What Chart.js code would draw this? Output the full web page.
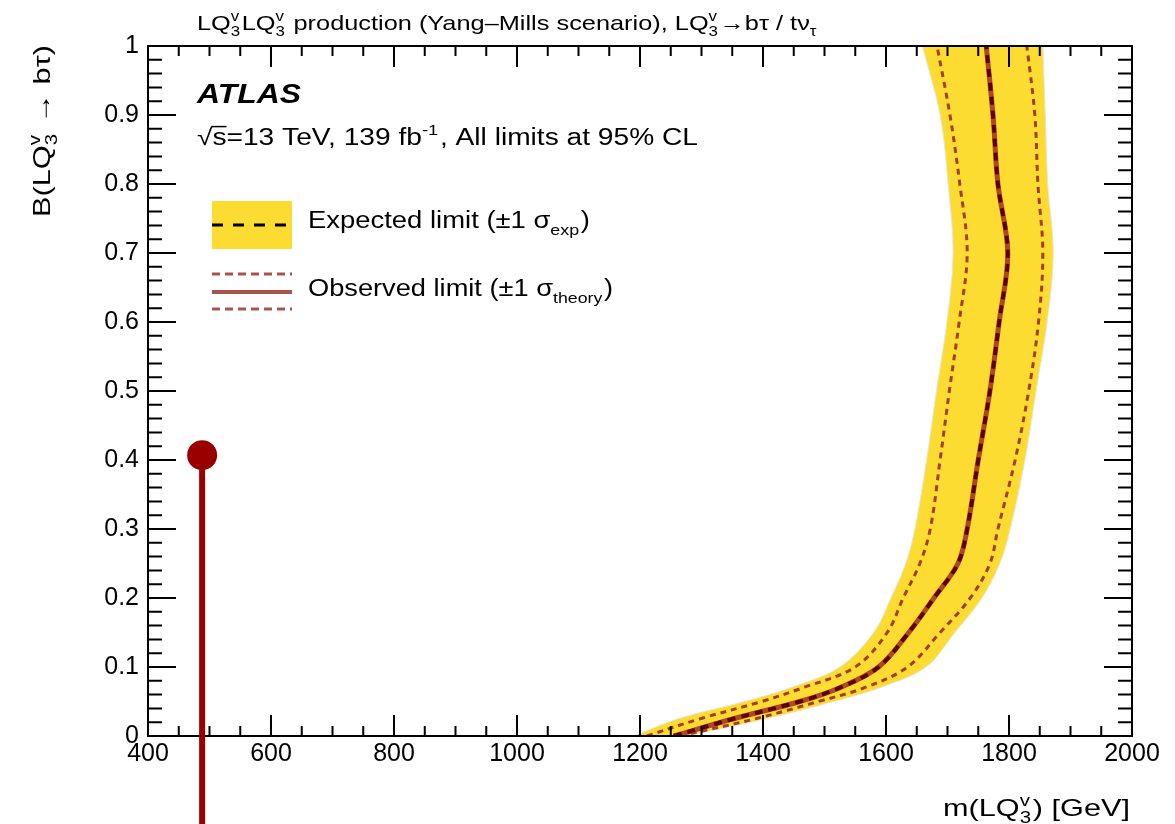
<!DOCTYPE html>
<html>
<head>
<meta charset="utf-8">
<script src="https://cdn.jsdelivr.net/npm/chart.js@4.4.1/dist/chart.umd.min.js"></script>
<style>
  html, body { margin: 0; padding: 0; background: #fff; }
  canvas { display: block; }
</style>
</head>
<body>
<canvas id="limitChart" width="1175" height="824"></canvas>
<script>
const bLevels = [0, 0.025, 0.05, 0.07, 0.1, 0.15, 0.2, 0.25, 0.3, 0.4, 0.5, 0.6, 0.7, 0.8, 0.9, 1.0];

// masses in GeV at each level
const expectedMass = [1255, 1352, 1460, 1525, 1588, 1637, 1678, 1717, 1732, 1750, 1769, 1784, 1798, 1782, 1774, 1763];
const observedMass = [1255, 1352, 1460, 1525, 1588, 1637, 1678, 1717, 1732, 1750, 1769, 1784, 1798, 1782, 1774, 1763];
const expLowMass  = [1190, 1262, 1370, 1445, 1525, 1580, 1608, 1632, 1647, 1666, 1682, 1699, 1709, 1701, 1688, 1659];
const expHighMass = [1275, 1405, 1515, 1590, 1665, 1712, 1756, 1785, 1802, 1826, 1844, 1862, 1872, 1863, 1859, 1855];
const theoUpMass   = [1211, 1298, 1398, 1465, 1550, 1602, 1628, 1655, 1672, 1688, 1703, 1719, 1732, 1720, 1704, 1683];
const theoDownMass = [1265, 1388, 1490, 1565, 1635, 1688, 1737, 1769, 1782, 1810, 1832, 1848, 1855, 1847, 1842, 1829];

// the red marker line
const markerMass = [488, 488];
const markerB = [0.407, -0.15];

const xTicks = { min: 400, max: 2000, step: 200 };
const yTicks = { min: 0, max: 1, step: 0.1 };

const FONT = "'Liberation Sans', Arial, Helvetica, sans-serif";

function pts(xs, ys) {
  return xs.map((m, i) => ({ x: m, y: ys[i] }));
}

// closed band outline: up the high side, across the top, down the low side
// (top corners doubled so the spline keeps them sharp)
const bandHi = pts(expHighMass, bLevels);
const bandLo = pts(expLowMass, bLevels).reverse();
const bandPoints = [...bandHi, bandHi[bandHi.length - 1], bandLo[0], ...bandLo];

// rich text: strings, {sub, sup} script pieces, or {over} for text with a bar
function fontStr(size, style) {
  return (style || '') + ' ' + size + 'px ' + FONT;
}
function richWidth(ctx, parts, size, style) {
  let w = 0;
  for (const p of parts) {
    if (typeof p === 'string' || p.over) {
      ctx.font = fontStr(size, style);
      w += ctx.measureText(p.over || p).width;
    } else {
      ctx.font = fontStr(Math.round(size * 0.66), style);
      const a = p.sup ? ctx.measureText(p.sup).width : 0;
      const b = p.sub ? ctx.measureText(p.sub).width : 0;
      w += Math.max(a, b) + size * 0.06;
    }
  }
  return w;
}
function drawRich(ctx, parts, x, y, size, o) {
  o = o || {};
  const natural = richWidth(ctx, parts, size, o.style);
  const sx = o.width ? o.width / natural : 1;
  ctx.save();
  ctx.translate(x, y);
  if (o.rot) ctx.rotate(o.rot);
  if (o.align === 'right') ctx.translate(-natural * sx, 0);
  ctx.scale(sx, 1);
  ctx.fillStyle = '#000';
  ctx.strokeStyle = '#000';
  ctx.textAlign = 'left';
  ctx.textBaseline = 'alphabetic';
  let cx = 0;
  for (const p of parts) {
    if (typeof p === 'string') {
      ctx.font = fontStr(size, o.style);
      ctx.fillText(p, cx, 0);
      cx += ctx.measureText(p).width;
    } else if (p.over) {
      ctx.font = fontStr(size, o.style);
      ctx.fillText(p.over, cx, 0);
      const w = ctx.measureText(p.over).width;
      ctx.lineWidth = 1.5;
      ctx.beginPath();
      ctx.moveTo(cx - 1, -size * 0.8);
      ctx.lineTo(cx + w, -size * 0.8);
      ctx.stroke();
      cx += w;
    } else {
      ctx.font = fontStr(Math.round(size * 0.66), o.style);
      let ww = 0;
      if (p.sup) { ctx.fillText(p.sup, cx, -size * 0.42); ww = Math.max(ww, ctx.measureText(p.sup).width); }
      if (p.sub) { ctx.fillText(p.sub, cx, size * 0.3); ww = Math.max(ww, ctx.measureText(p.sub).width); }
      cx += ww + size * 0.06;
    }
  }
  ctx.restore();
}

const LQ = ['LQ', { sup: 'v', sub: '3' }];

// frame with ROOT style inward ticks, drawn before the marker
const frameTicks = {
  id: 'frameTicks',
  afterDatasetDraw(chart, args) {
    if (args.index !== 1) return;
    const { ctx, chartArea: a, scales: { x, y } } = chart;
    ctx.save();
    ctx.strokeStyle = '#000';
    ctx.lineWidth = 2;
    ctx.strokeRect(a.left, a.top, a.right - a.left, a.bottom - a.top);
    ctx.beginPath();
    for (let m = xTicks.min; m <= xTicks.max; m += 50) {
      const px = x.getPixelForValue(m);
      const len = m % 200 === 0 ? 21 : 10;
      ctx.moveTo(px, a.bottom); ctx.lineTo(px, a.bottom - len);
      ctx.moveTo(px, a.top); ctx.lineTo(px, a.top + len);
    }
    for (let i = 0; i <= 50; i++) {
      const py = y.getPixelForValue(i / 50);
      const len = i % 5 === 0 ? 28 : 14;
      ctx.moveTo(a.left, py); ctx.lineTo(a.left + len, py);
      ctx.moveTo(a.right, py); ctx.lineTo(a.right - len, py);
    }
    ctx.stroke();
    ctx.restore();
  }
};

// texts and legend
const labelsPlugin = {
  id: 'labelsPlugin',
  afterDraw(chart) {
    const ctx = chart.ctx;
    drawRich(ctx, [...LQ, ...LQ, ' production (Yang\u2013Mills scenario), ', ...LQ, '\u2192b\u03c4 / t\u03bd', { sub: '\u03c4' }],
      197, 30, 21, { width: 621 });
    drawRich(ctx, ['ATLAS'], 197, 103, 28, { style: 'italic bold', width: 104 });
    drawRich(ctx, ['\u221a', { over: 's' }, '=13 TeV, 139 fb', { sup: '-1' }, ', All limits at 95% CL'], 197, 145, 23, { width: 501 });

    // legend
    ctx.save();
    ctx.fillStyle = '#fddc32';
    ctx.fillRect(212, 201, 80, 48);
    ctx.strokeStyle = '#000';
    ctx.lineWidth = 3;
    ctx.setLineDash([11, 10]);
    ctx.beginPath(); ctx.moveTo(212, 225); ctx.lineTo(292, 225); ctx.stroke();
    ctx.strokeStyle = 'rgb(170,82,78)';
    ctx.setLineDash([8, 5]);
    ctx.lineWidth = 3;
    ctx.beginPath();
    ctx.moveTo(212, 274); ctx.lineTo(292, 274);
    ctx.moveTo(212, 309); ctx.lineTo(292, 309);
    ctx.stroke();
    ctx.setLineDash([]);
    ctx.lineWidth = 4;
    ctx.beginPath(); ctx.moveTo(212, 292); ctx.lineTo(292, 292); ctx.stroke();
    ctx.restore();
    drawRich(ctx, ['Expected limit (\u00b11 \u03c3', { sub: 'exp' }, ')'], 308, 228, 23, { width: 282 });
    drawRich(ctx, ['Observed limit (\u00b11 \u03c3', { sub: 'theory' }, ')'], 308, 296, 23, { width: 305 });

    // axis titles
    drawRich(ctx, ['m(', ...LQ, ') [GeV]'], 1130, 816, 24, { align: 'right', width: 187 });
    drawRich(ctx, ['B(', ...LQ, ' \u2192 b\u03c4)'], 50, 45, 24, { align: 'right', rot: -Math.PI / 2, width: 172 });
  }
};

const datasets = [
  {
    label: 'marker',
    data: pts(markerMass, markerB),
    borderColor: '#9b0000',
    backgroundColor: '#9b0000',
    borderWidth: 6,
    pointRadius: [12, 0],
    clip: false,
    order: 0
  },
  {
    label: 'Expected limit',
    data: pts(expectedMass, bLevels),
    borderColor: 'rgb(95,0,0)',
    borderWidth: 4,
    borderDash: [8, 6],
    tension: 0.35,
    pointRadius: 0,
    order: 1
  },
  {
    label: 'Observed limit',
    data: pts(observedMass, bLevels),
    borderColor: 'rgb(172,72,38)',
    borderWidth: 5,
    tension: 0.35,
    pointRadius: 0,
    order: 2
  },
  {
    label: 'Observed +1 sigma theory',
    data: pts(theoUpMass, bLevels),
    borderColor: 'rgb(165,62,32)',
    borderWidth: 3,
    borderDash: [6, 5],
    tension: 0.35,
    pointRadius: 0,
    order: 3
  },
  {
    label: 'Observed -1 sigma theory',
    data: pts(theoDownMass, bLevels),
    borderColor: 'rgb(165,62,32)',
    borderWidth: 3,
    borderDash: [6, 5],
    tension: 0.35,
    pointRadius: 0,
    order: 4
  },
  {
    label: 'Expected +-1 sigma',
    data: bandPoints,
    borderColor: 'rgb(228,228,220)',
    backgroundColor: '#fddc32',
    borderWidth: 1,
    fill: 'shape',
    tension: 0.35,
    pointRadius: 0,
    order: 5
  }
];

new Chart(document.getElementById('limitChart'), {
  type: 'scatter',
  data: { datasets: datasets },
  options: {
    responsive: false,
    animation: false,
    devicePixelRatio: 1,
    showLine: true,
    layout: { padding: { top: 46, right: 43, left: 0, bottom: 0 } },
    plugins: {
      legend: { display: false },
      tooltip: { enabled: false },
      title: { display: false }
    },
    scales: {
      x: {
        type: 'linear',
        min: xTicks.min,
        max: xTicks.max,
        grid: { display: false, drawTicks: false },
        border: { display: false },
        ticks: {
          stepSize: xTicks.step, color: '#000', font: { family: FONT, size: 25 }, padding: 3, maxRotation: 0,
          callback: v => String(v)
        },
        afterFit(scale) { scale.height = 88; }
      },
      y: {
        type: 'linear',
        min: yTicks.min,
        max: yTicks.max,
        grid: { display: false, drawTicks: false },
        border: { display: false },
        ticks: {
          stepSize: yTicks.step, color: '#000', font: { family: FONT, size: 25 }, padding: 9,
          callback: v => String(Math.round(v * 10) / 10)
        },
        afterFit(scale) { scale.width = 148; }
      }
    }
  },
  plugins: [frameTicks, labelsPlugin]
});
</script>
</body>
</html>
